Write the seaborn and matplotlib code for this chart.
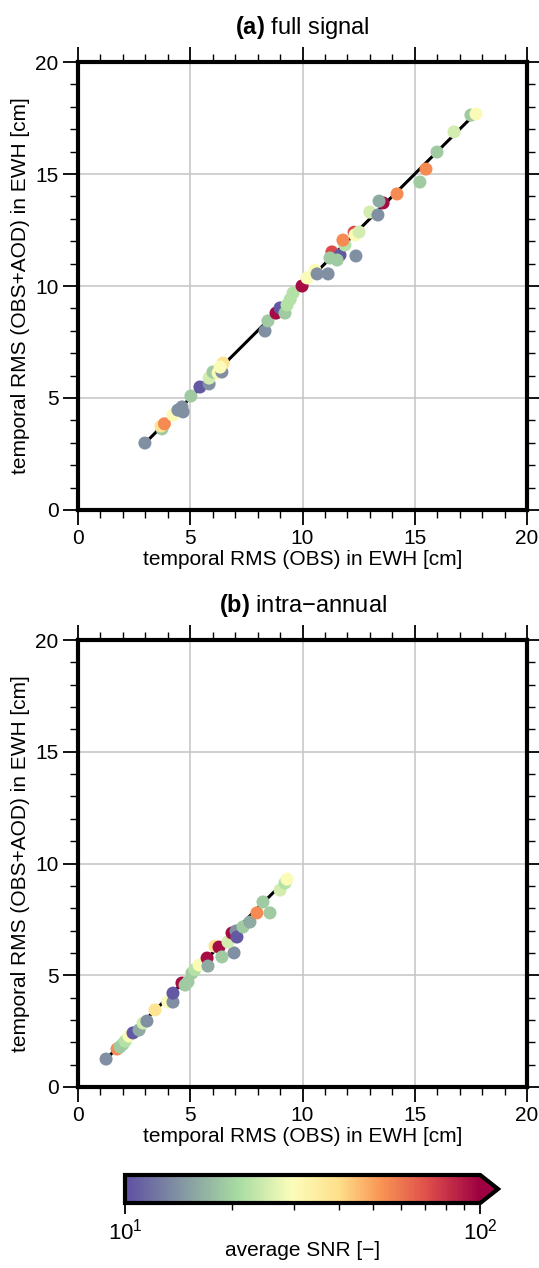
import numpy as np
import pandas as pd
import matplotlib
matplotlib.use("Agg")
import matplotlib.pyplot as plt
import seaborn as sns
from matplotlib.colors import LinearSegmentedColormap, LogNorm
from matplotlib.cm import ScalarMappable
from matplotlib.ticker import MultipleLocator, LogLocator, FixedLocator, NullFormatter, LogFormatterSciNotation

# ---------------- data ----------------
full_obs = [2.98, 3.74, 3.70, 3.85, 4.23, 4.45, 4.63, 4.68, 5.03, 5.43, 5.84, 5.84, 6.01, 6.24,
            6.41, 6.46, 6.33, 8.33, 8.46, 8.82, 9.00, 9.22, 9.31, 9.45, 9.58, 9.98, 10.20,
            10.56, 10.65, 11.14, 11.31, 11.67, 11.22, 11.54, 11.89, 11.80, 12.30, 12.34, 12.52,
            12.38, 13.00, 13.36, 13.59, 13.41, 14.21, 15.23, 15.50, 15.99, 16.75, 17.50, 17.73]
full_obsaod = [2.99, 3.62, 3.75, 3.85, 4.24, 4.46, 4.60, 4.38, 5.09, 5.49, 5.63, 5.89, 6.16, 6.12,
               6.16, 6.56, 6.38, 7.99, 8.44, 8.79, 9.02, 8.79, 9.15, 9.40, 9.69, 10.00, 10.36,
               10.71, 10.54, 10.54, 11.52, 11.38, 11.25, 11.16, 11.83, 12.05, 12.40, 12.28, 12.41,
               11.34, 13.30, 13.17, 13.71, 13.79, 14.11, 14.64, 15.22, 15.98, 16.88, 17.63, 17.68]
full_snr = [14, 19, 38, 55, 30, 14, 14, 14, 19, 10.5, 14, 25, 19, 30,
            14, 38, 30, 14, 19, 95, 10.5, 19, 22, 22, 22, 95, 30,
            30, 14, 14, 72, 10.5, 19, 19, 22, 55, 72, 30, 25,
            14, 25, 14, 95, 16, 55, 19, 55, 19, 25, 19, 30]

intra_obs = [1.25, 1.74, 1.87, 2.00, 2.10, 2.27, 2.45, 2.72, 2.90, 3.07, 3.43, 4.00, 4.23, 4.23,
             4.63, 4.77, 4.90, 5.08, 5.20, 5.39, 5.75, 5.79, 6.10, 6.28, 6.41, 6.95, 6.68, 6.86,
             7.04, 7.08, 7.35, 7.66, 7.97, 8.55, 8.24, 9.00, 9.22, 9.31]
intra_obsaod = [1.25, 1.70, 1.79, 1.92, 2.05, 2.28, 2.42, 2.55, 2.86, 2.95, 3.45, 3.80, 3.80, 4.20,
                4.65, 4.56, 4.70, 5.10, 5.25, 5.46, 5.77, 5.41, 6.30, 6.26, 5.82, 6.00, 6.49, 6.89,
                6.98, 6.71, 7.16, 7.38, 7.79, 7.79, 8.28, 8.81, 9.13, 9.30]
intra_snr = [14, 55, 19, 19, 22, 30, 10.5, 16, 25, 14, 38, 30, 14, 10.5,
             95, 19, 19, 19, 22, 30, 95, 16, 38, 95, 19, 14, 25, 95,
             14, 10.5, 19, 16, 55, 19, 19, 25, 22, 30]

titles = [("(a)", "full signal"), ("(b)", "intra\u2212annual")]
xlabel = "temporal RMS (OBS) in EWH [cm]"
ylabel = "temporal RMS (OBS+AOD) in EWH [cm]"
cbar_label = "average SNR [\u2212]"

# ---------------- style ----------------
sns.set_theme(style="white")
plt.rcParams["font.family"] = ["Liberation Sans", "DejaVu Sans"]
plt.rcParams["mathtext.fontset"] = "custom"
plt.rcParams["mathtext.rm"] = "Liberation Sans"
plt.rcParams["mathtext.bf"] = "Liberation Sans:bold"
plt.rcParams["mathtext.it"] = "Liberation Sans:italic"
plt.rcParams["text.color"] = "black"
plt.rcParams["axes.labelcolor"] = "black"
plt.rcParams["xtick.color"] = "black"
plt.rcParams["ytick.color"] = "black"

cmap = LinearSegmentedColormap.from_list(
    "snr",
    [(0.0, "#5e4fa2"), (0.16, "#8497a2"), (0.32, "#a8dca2"), (0.47, "#fbfdbb"),
     (0.60, "#fee08b"), (0.72, "#f99555"), (0.85, "#df4f4b"), (1.0, "#9e0142")])
norm = LogNorm(vmin=10, vmax=100)

fig = plt.figure(figsize=(5.39, 12.68), dpi=100)
ax_a = fig.add_axes([78/539, 1-510/1268, 449/539, 448/1268])
ax_b = fig.add_axes([78/539, 1-1087/1268, 449/539, 447/1268])

datasets = [(full_obs, full_obsaod, full_snr), (intra_obs, intra_obsaod, intra_snr)]

for ax, (xs, ys, snr), (lab, txt) in zip([ax_a, ax_b], datasets, titles):
    df = pd.DataFrame({"obs": xs, "obsaod": ys, "snr": snr})
    ax.set_xlim(0, 20)
    ax.set_ylim(0, 20)
    ax.grid(True, color="#c4c4c4", linewidth=1.1)
    ax.set_axisbelow(True)
    lo, hi = min(xs), max(xs)
    ax.plot([lo, hi], [lo, hi], color="black", linewidth=2.2, zorder=2)
    sns.scatterplot(data=df, x="obs", y="obsaod", hue="snr", palette=cmap, hue_norm=norm,
                    s=88, linewidth=0, legend=False, ax=ax, zorder=3)
    ax.xaxis.set_major_locator(MultipleLocator(5))
    ax.yaxis.set_major_locator(MultipleLocator(5))
    ax.xaxis.set_minor_locator(MultipleLocator(1))
    ax.yaxis.set_minor_locator(MultipleLocator(1))
    ax.tick_params(which="both", direction="out", top=True, right=True, bottom=True, left=True,
                   labelsize=15, color="black", labelcolor="black")
    ax.tick_params(which="major", length=11, width=1.3, pad=3)
    ax.tick_params(which="minor", length=6, width=1.0)
    for sp in ax.spines.values():
        sp.set_linewidth(3)
        sp.set_color("black")
    ax.set_xlabel(xlabel, fontsize=15, labelpad=1)
    ax.set_ylabel(ylabel, fontsize=15, labelpad=4)
    ax.set_title(r"$\mathbf{" + lab + "}$ " + txt, fontsize=17, pad=20)

cax = fig.add_axes([125/539, 1-1203/1268, 373/539, 28/1268])
sm = ScalarMappable(norm=norm, cmap=cmap)
cb = fig.colorbar(sm, cax=cax, orientation="horizontal", extend="max")
cb.outline.set_linewidth(3)
cb.outline.set_edgecolor("black")
cax.xaxis.set_major_locator(FixedLocator([10, 100]))
cax.xaxis.set_major_formatter(LogFormatterSciNotation())
cax.xaxis.set_minor_locator(LogLocator(base=10, subs=np.arange(2, 10)))
cax.xaxis.set_minor_formatter(NullFormatter())
cax.tick_params(which="both", direction="out", labelsize=16)
cax.tick_params(which="major", length=8, width=1.3, pad=3)
cax.tick_params(which="minor", length=5, width=1.0)
cb.set_label(cbar_label, fontsize=15, labelpad=-2)

fig.savefig("out.png", dpi=100)
